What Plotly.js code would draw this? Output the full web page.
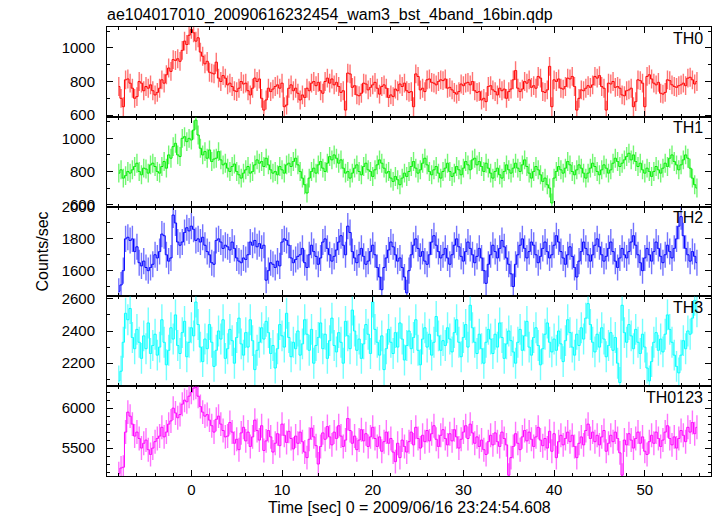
<!DOCTYPE html>
<html><head><meta charset="utf-8">
<script src="https://cdn.plot.ly/plotly-3.0.1.min.js"></script>
<style>html,body{margin:0;padding:0;background:#fff}#chart{width:717px;height:516px}</style>
</head><body><div id="chart"></div>
<script>
const chartTitle = "ae104017010_20090616232454_wam3_bst_4band_16bin.qdp";
const xTitle = "Time [sec] 0 = 2009/06/16 23:24:54.608";
const yTitle = "Counts/sec";
const binStart = -8;
const binWidth = 0.25;
const bandNames = ["TH0", "TH1", "TH2", "TH3", "TH0123"];
const bandColors = ["#ff0000", "#00ee00", "#0000ff", "#00ffff", "#ff00ff"];
const errorHalfWidth = [56, 57, 82, 96, 150];

const th0 = [
770,700,650,810,815,790,760,700,710,800,790,745,770,760,780,745,
720,735,760,810,790,840,880,860,930,925,935,920,985,1040,1020,1075,
1110,1090,1040,1060,975,950,905,920,855,850,845,915,820,800,835,820,
780,790,770,745,740,760,800,785,790,745,720,760,820,800,815,700,
630,690,760,740,755,770,780,760,790,650,660,760,780,745,760,730,
690,720,705,760,745,790,800,775,795,745,730,800,820,790,815,780,
795,770,735,745,630,850,845,765,775,720,715,730,790,785,750,765,
780,795,760,725,770,780,760,705,720,710,755,745,785,770,790,745,
735,740,650,845,830,750,760,740,810,815,795,790,780,800,810,805,
815,760,765,750,735,725,740,785,775,790,795,780,800,745,735,740,
690,700,680,770,775,750,740,720,760,745,755,700,740,755,810,865,
760,740,755,800,790,810,765,775,760,830,820,740,735,750,890,650,
810,800,815,760,755,770,820,815,830,770,630,700,750,745,760,775,
765,780,830,820,835,770,760,630,790,785,800,765,770,760,720,715,
745,750,760,650,680,810,805,790,650,830,840,815,790,780,795,730,
725,735,810,805,780,770,765,775,780,790,775,820,825,810,785,800];

const th1 = [
790,810,760,775,800,790,810,830,850,800,780,820,815,790,840,850,
830,800,790,830,860,820,900,880,950,970,900,890,1000,1010,980,1000,
990,1050,1110,1020,940,900,920,880,930,860,875,880,920,870,840,850,
820,800,830,845,800,780,760,790,810,830,790,800,840,870,850,860,
830,880,840,810,790,800,780,830,810,790,840,850,830,860,880,840,
800,760,720,670,760,800,820,790,840,860,820,800,850,890,870,900,
880,850,870,820,790,800,760,790,820,840,800,780,830,850,810,800,
770,810,840,870,850,820,790,800,760,740,770,750,720,760,790,770,
800,830,860,820,790,810,850,880,840,800,780,810,830,790,760,800,
820,850,800,770,790,830,810,780,820,860,840,810,870,880,840,860,
830,800,850,820,790,760,800,820,780,760,800,840,810,790,820,850,
820,800,840,870,830,790,760,800,830,810,780,740,760,720,700,610,
760,800,830,810,790,820,860,840,800,780,810,840,820,790,760,790,
820,850,830,800,780,810,840,820,790,810,850,880,860,830,850,870,
890,910,870,900,860,830,850,810,790,820,800,770,800,830,810,790,
820,850,830,880,900,860,840,810,840,870,900,880,820,760,720,700];

const th2 = [
1470,1510,1600,1800,1810,1790,1800,1720,1750,1650,1630,1660,1620,1600,1620,1640,
1700,1680,1720,1830,1820,1700,1660,1680,1950,1900,1780,1760,1780,1840,1870,1850,
1880,1860,1790,1800,1780,1810,1760,1720,1700,1650,1640,1790,1800,1780,1740,1760,
1750,1730,1780,1740,1680,1660,1650,1680,1670,1700,1780,1760,1790,1750,1770,1740,
1760,1540,1600,1650,1640,1620,1660,1630,1780,1800,1790,1760,1680,1650,1670,1690,
1700,1740,1650,1620,1700,1760,1720,1690,1640,1680,1780,1800,1740,1700,1660,1690,
1730,1780,1820,1760,1700,1880,1840,1720,1680,1650,1700,1740,1690,1640,1660,1720,
1760,1700,1620,1560,1480,1620,1680,1730,1780,1750,1700,1660,1680,1620,1560,1460,
1600,1700,1760,1800,1740,1690,1720,1660,1640,1700,1780,1820,1760,1720,1680,1700,
1740,1680,1640,1700,1760,1800,1750,1690,1660,1720,1780,1740,1700,1650,1690,1740,
1680,1600,1520,1640,1700,1760,1720,1680,1740,1790,1750,1680,1640,1580,1500,1640,
1700,1760,1800,1740,1680,1720,1780,1760,1700,1650,1690,1740,1780,1720,1680,1700,
1760,1820,1780,1720,1680,1640,1700,1750,1690,1620,1560,1660,1720,1780,1740,1700,
1660,1700,1760,1800,1750,1700,1660,1690,1740,1780,1720,1660,1620,1680,1740,1700,
1680,1720,1780,1820,1760,1700,1650,1600,1680,1740,1700,1660,1720,1780,1740,1690,
1650,1700,1760,1720,1680,1740,1800,1880,1940,1820,1740,1700,1660,1720,1690,1650];

const th3 = [
2090,2150,2330,2510,2470,2540,2360,2290,2410,2330,2230,2370,2290,2450,2260,2310,
2380,2250,2300,2470,2330,2190,2280,2420,2350,2500,2310,2260,2390,2460,2240,2330,
2420,2370,2580,2440,2300,2210,2350,2290,2440,2330,2180,2280,2400,2350,2470,2230,
2290,2410,2340,2200,2360,2480,2320,2250,2390,2300,2470,2340,2160,2280,2330,2420,
2350,2460,2390,2260,2310,2170,2290,2440,2370,2300,2510,2360,2240,2330,2290,2400,
2250,2320,2470,2380,2280,2410,2200,2310,2360,2450,2290,2380,2230,2340,2480,2310,
2270,2390,2330,2200,2460,2370,2290,2530,2400,2280,2350,2230,2320,2440,2380,2260,
2580,2410,2330,2250,2370,2160,2290,2410,2330,2260,2390,2300,2450,2350,2220,2310,
2400,2290,2360,2470,2280,2190,2350,2420,2300,2380,2250,2330,2490,2370,2280,2340,
2310,2420,2350,2270,2390,2470,2330,2240,2360,2440,2300,2560,2420,2330,2260,2380,
2290,2200,2330,2410,2350,2260,2380,2300,2450,2360,2230,2320,2400,2340,2270,2200,
2330,2410,2280,2370,2460,2300,2250,2360,2420,2310,2190,2290,2380,2450,2330,2270,
2350,2280,2400,2320,2210,2340,2470,2390,2300,2250,2380,2310,2420,2350,2480,2570,
2440,2330,2270,2380,2300,2420,2350,2240,2310,2390,2280,2360,2200,2080,2560,2390,
2330,2440,2370,2290,2410,2330,2260,2380,2300,2170,2090,2210,2330,2390,2280,2350,
2270,2380,2500,2410,2330,2250,2180,2140,2250,2340,2290,2400,2380,2480,2590,2520];

const th0123 = [
5180,5250,5260,5700,5950,5900,5800,5650,5700,5620,5500,5560,5600,5480,5420,5500,
5580,5620,5650,5760,5640,5700,5800,5840,6000,5940,5880,5920,6050,6100,6080,6150,
6200,6250,6260,6150,6020,5950,5900,5920,5850,5780,5700,5860,5900,5800,5720,5640,
5650,5820,5700,5560,5610,5480,5690,5760,5590,5700,5520,5640,5850,5720,5600,5780,
5470,5590,5720,5640,5450,5560,5680,5530,5800,5660,5570,5710,5620,5490,5650,5560,
5700,5580,5450,5380,5610,5750,5640,5530,5300,5520,5690,5610,5770,5640,5540,5700,
5620,5780,5650,5520,5600,5870,5720,5560,5650,5480,5600,5730,5590,5680,5520,5640,
5760,5620,5520,5640,5460,5580,5700,5560,5620,5450,5330,5560,5380,5600,5520,5450,
5580,5700,5540,5760,5620,5500,5660,5580,5720,5590,5680,5780,5610,5520,5660,5730,
5620,5540,5680,5590,5730,5640,5500,5610,5700,5780,5620,5800,5690,5560,5640,5520,
5600,5480,5420,5580,5660,5540,5690,5580,5520,5700,5620,5540,5160,5380,5520,5680,
5560,5480,5640,5720,5590,5700,5610,5520,5640,5760,5600,5530,5620,5500,5710,5460,
5680,5380,5580,5660,5540,5620,5700,5580,5660,5520,5380,5560,5640,5540,5720,5800,
5620,5700,5580,5660,5540,5640,5720,5460,5560,5660,5580,5700,5620,5440,5160,5600,
5540,5680,5600,5500,5620,5700,5560,5640,5460,5420,5580,5660,5560,5700,5620,5520,
5600,5700,5780,5620,5540,5640,5500,5620,5720,5660,5580,5760,5700,5820,5680,5760];

const bandRates = [th0, th1, th2, th3, th0123];
const yRanges = [[590, 1124], [588, 1130], [1438, 2003], [2057, 2615], [5150, 6275]];
const yMajor = [200, 200, 200, 200, 500];
const yMinor = [100, 100, 100, 100, 100];

const timeBins = th0.map((_, i) => binStart + i * binWidth);
const FONT = "Liberation Sans, Arial, Helvetica, sans-serif";
const nP = bandNames.length;

const traces = [];
const layout = {
  width: 717, height: 516,
  margin: {l: 107, r: 6, t: 27, b: 40, pad: 0},
  paper_bgcolor: "#ffffff", plot_bgcolor: "#ffffff",
  showlegend: false,
  font: {family: FONT, size: 15, color: "#000"},
  title: {text: chartTitle, x: 0, xref: "paper", xanchor: "left", y: 1 - 14/516, yref: "container", yanchor: "middle",
          font: {family: FONT, size: 16, color: "#000"}},
  annotations: []
};

function hexToRgba(h, a) {
  const r = parseInt(h.slice(1,3),16), g = parseInt(h.slice(3,5),16), b = parseInt(h.slice(5,7),16);
  return `rgba(${r},${g},${b},${a})`;
}

for (let i = 0; i < nP; i++) {
  const k = i + 1;
  const xa = k === 1 ? "x" : "x" + k;
  const ya = k === 1 ? "y" : "y" + k;
  traces.push({
    type: "scatter", mode: "lines", x: timeBins, y: bandRates[i],
    xaxis: xa, yaxis: ya,
    line: {color: bandColors[i], width: 1, shape: "hvh"},
    error_y: {type: "constant", value: errorHalfWidth[i], visible: true,
              color: hexToRgba(bandColors[i], 0.55), thickness: 1.4, width: 0},
    hoverinfo: "skip"
  });
  const top = 1 - i / nP, bot = 1 - (i + 1) / nP;
  const xName = k === 1 ? "xaxis" : "xaxis" + k;
  const yName = k === 1 ? "yaxis" : "yaxis" + k;
  layout[xName] = {
    domain: [0, 1], anchor: ya, range: [-9.3, 57.3],
    matches: k === 1 ? undefined : "x",
    showgrid: false, zeroline: false,
    showline: true, linecolor: "#000", linewidth: 1, mirror: "ticks",
    ticks: "inside", ticklen: 6, tickwidth: 1, tickcolor: "#000",
    dtick: 10, tick0: 0,
    minor: {dtick: 2, tick0: 0, ticks: "inside", ticklen: 3, tickcolor: "#000", tickwidth: 1, showgrid: false},
    showticklabels: i === nP - 1,
    tickfont: {family: FONT, size: 15, color: "#000"},
    ticklabelstandoff: 0
  };
  layout[yName] = {
    domain: [bot, top], anchor: xa, range: yRanges[i],
    showgrid: false, zeroline: false,
    showline: true, linecolor: "#000", linewidth: 1, mirror: "ticks",
    ticks: "inside", ticklen: 6, tickwidth: 1, tickcolor: "#000",
    dtick: yMajor[i], tick0: 0,
    minor: {dtick: yMinor[i], tick0: 0, ticks: "inside", ticklen: 3, tickcolor: "#000", tickwidth: 1, showgrid: false},
    tickfont: {family: FONT, size: 15, color: "#000"},
    ticklabelstandoff: 8
  };
  layout.annotations.push({
    text: bandNames[i], xref: "paper", yref: "paper", x: 0.99, y: top,
    xanchor: "right", yanchor: "middle", yshift: -11, showarrow: false,
    font: {family: FONT, size: 16, color: "#000"}
  });
}

layout.annotations.push({
  text: yTitle, xref: "paper", yref: "paper", x: (42 - 107) / 604, y: 0.5,
  xanchor: "center", yanchor: "middle", textangle: -90, showarrow: false,
  font: {family: FONT, size: 16, color: "#000"}
});
layout.annotations.push({
  text: xTitle, xref: "paper", yref: "paper", x: 0.5, y: -(507 - 476) / 449,
  xanchor: "center", yanchor: "middle", showarrow: false,
  font: {family: FONT, size: 16, color: "#000"}
});

Plotly.newPlot("chart", traces, layout, {staticPlot: true, displayModeBar: false});
</script>
</body></html>
